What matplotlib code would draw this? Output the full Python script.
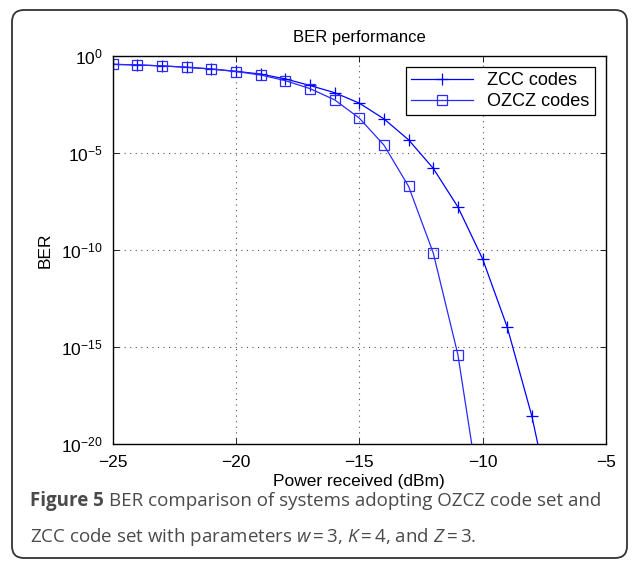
import matplotlib
matplotlib.use("Agg")
import matplotlib.pyplot as plt
import numpy as np
from matplotlib.patches import FancyBboxPatch

# data (log10 of BER)
power_zcc = [-25, -24, -23, -22, -21, -20, -19, -18, -17, -16, -15, -14, -13, -12, -11, -10, -9, -8, -7]
logber_zcc = [-0.43, -0.46, -0.51, -0.58, -0.67, -0.79, -0.93, -1.18, -1.52, -1.89, -2.43, -3.24, -4.32, -5.79, -7.78, -10.45, -13.97, -18.56, -24.5]
power_ozcz = [-25, -24, -23, -22, -21, -20, -19, -18, -17, -16, -15, -14, -13, -12, -11, -10]
logber_ozcz = [-0.43, -0.46, -0.51, -0.58, -0.67, -0.80, -0.98, -1.27, -1.68, -2.26, -3.20, -4.59, -6.72, -10.15, -15.39, -23.6]

xticks = [-25, -20, -15, -10, -5]
yticks = [0, -5, -10, -15, -20]

plt.rcParams['font.family'] = ['Liberation Sans', 'DejaVu Sans']
plt.rcParams['mathtext.fontset'] = 'custom'
plt.rcParams['mathtext.rm'] = 'Liberation Sans'
plt.rcParams['mathtext.it'] = 'Open Sans:italic'

fig = plt.figure(figsize=(6.37, 5.64), dpi=100)
ax = fig.add_axes([0.177, 0.2128, 0.774, 0.6879])

ax.plot(power_zcc, 10.0 ** np.array(logber_zcc), color='#0000ff', lw=0.9,
        marker='+', ms=9, mew=0.9, label='ZCC codes')
ax.plot(power_ozcz, 10.0 ** np.array(logber_ozcz), color='#2a2aff', lw=0.9,
        marker='s', ms=7, mew=0.9, mfc='none', label='OZCZ codes')

ax.set_yscale('log')
ax.set_xlim(-25, -5)
ax.set_ylim(1e-20, 1)
ax.set_xticks(xticks)
ax.set_xticklabels(['\u2212%d' % abs(v) for v in xticks], fontsize=12.5)
ax.set_yticks([10.0 ** v for v in yticks])
ax.set_yticklabels(['$\\mathregular{10^{%d}}$' % v for v in yticks], fontsize=12.5)
ax.yaxis.set_minor_locator(matplotlib.ticker.NullLocator())
ax.tick_params(axis='x', pad=8)
ax.tick_params(direction='in', top=True, right=True, length=4, width=0.6)
ax.tick_params(axis='y', pad=7)
ax.grid(True, color='#555555', linestyle=(0, (1, 4)), linewidth=0.8)
for s in ax.spines.values():
    s.set_linewidth(1.0)

ax.set_title('BER performance', fontsize=12, pad=10)
ax.set_xlabel('Power received (dBm)', fontsize=12.5, labelpad=3)
ax.set_ylabel('BER', fontsize=12.5, labelpad=6)

leg = ax.legend(loc='upper right', fontsize=13, fancybox=False, edgecolor='black',
                framealpha=1, borderaxespad=0.6, handlelength=3.4,
                borderpad=0.3, labelspacing=0.2)
leg.get_frame().set_linewidth(0.9)

# caption and rounded border
cap_color = '#4a4a4a'
y1 = 1 - 501 / 564
t_bold = fig.text(30 / 637, y1, 'Figure 5', fontsize=13.5, color=cap_color,
                  va='center', family='Open Sans', fontweight='bold')
fig.canvas.draw()
bb = t_bold.get_window_extent()
fig.text((bb.x1 + 5) / 637, y1,
         'BER comparison of systems adopting OZCZ code set and',
         fontsize=13.5, color=cap_color, va='center', family='Open Sans')
fig.text(30 / 637, 1 - 537 / 564,
         'ZCC code set with parameters $w$\u2009=\u20093, $K$\u2009=\u20094, and $Z$\u2009=\u20093.',
         fontsize=13.5, color=cap_color, va='center', family='Open Sans')

box = FancyBboxPatch((0.24, 0.18), 5.91, 5.24, boxstyle='round,pad=0.12,rounding_size=0.12',
                     transform=fig.dpi_scale_trans, fill=False, edgecolor='#333333', lw=1.3)
fig.patches.append(box)

fig.savefig('out.png', dpi=100)
